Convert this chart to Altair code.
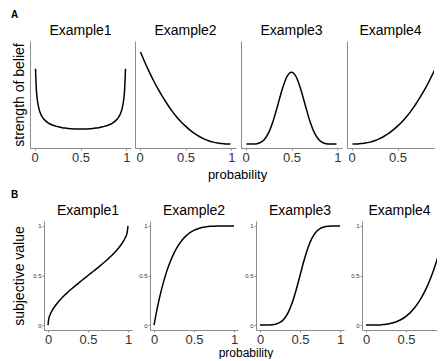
import altair as alt
import pandas as pd

FONT = "Liberation Sans"
names = ["Example1", "Example2", "Example3", "Example4"]

# ---- Panel A: strength of belief ----
xa1 = [0.01, 0.02, 0.03, 0.05, 0.075, 0.1, 0.15, 0.2, 0.25, 0.3, 0.35, 0.4, 0.45, 0.5,
       0.55, 0.6, 0.65, 0.7, 0.75, 0.8, 0.85, 0.9, 0.925, 0.95, 0.97, 0.98, 0.99]
belief1 = [3.20, 2.27, 1.87, 1.46, 1.21, 1.06, 0.89, 0.80, 0.74, 0.69, 0.67, 0.65, 0.64, 0.64,
           0.64, 0.65, 0.67, 0.69, 0.74, 0.80, 0.89, 1.06, 1.21, 1.46, 1.87, 2.27, 3.20]
xa = [0.01, 0.05, 0.1, 0.15, 0.2, 0.25, 0.3, 0.35, 0.4, 0.45, 0.5,
      0.55, 0.6, 0.65, 0.7, 0.75, 0.8, 0.85, 0.9, 0.95, 0.99]
belief2 = [3.91, 3.54, 3.11, 2.71, 2.34, 2.01, 1.70, 1.42, 1.17, 0.95, 0.76,
           0.59, 0.44, 0.32, 0.22, 0.14, 0.08, 0.04, 0.02, 0.00, 0.00]
belief3 = [0.00, 0.00, 0.00, 0.04, 0.17, 0.47, 0.98, 1.65, 2.34, 2.86, 3.05,
           2.86, 2.34, 1.65, 0.98, 0.47, 0.17, 0.04, 0.00, 0.00, 0.00]
belief4 = [0.00, 0.00, 0.02, 0.04, 0.08, 0.14, 0.22, 0.32, 0.44, 0.59, 0.76,
           0.95, 1.17, 1.42, 1.70, 2.01, 2.34, 2.71, 3.11, 3.54, 3.91]

# ---- Panel B: subjective value ----
xb1 = [0, 0.01, 0.03, 0.05, 0.1, 0.15, 0.2, 0.25, 0.3, 0.35, 0.4, 0.45, 0.5,
       0.55, 0.6, 0.65, 0.7, 0.75, 0.8, 0.85, 0.9, 0.95, 0.97, 0.99, 1]
value1 = [0, 0.064, 0.111, 0.144, 0.205, 0.253, 0.295, 0.333, 0.369, 0.403, 0.436, 0.468, 0.5,
          0.532, 0.564, 0.597, 0.631, 0.667, 0.705, 0.747, 0.795, 0.856, 0.889, 0.936, 1]
xb = [0, 0.05, 0.1, 0.15, 0.2, 0.25, 0.3, 0.35, 0.4, 0.45, 0.5,
      0.55, 0.6, 0.65, 0.7, 0.75, 0.8, 0.85, 0.9, 0.95, 1]
value2 = [0, 0.206, 0.378, 0.519, 0.634, 0.726, 0.799, 0.856, 0.900, 0.932, 0.956,
          0.972, 0.984, 0.991, 0.996, 0.998, 0.999, 1, 1, 1, 1]
value3 = [0, 0, 0.001, 0.003, 0.010, 0.026, 0.061, 0.123, 0.219, 0.349, 0.5,
          0.651, 0.781, 0.877, 0.939, 0.974, 0.990, 0.997, 0.999, 1, 1]
value4 = [0, 0, 0, 0.001, 0.004, 0.008, 0.015, 0.025, 0.041, 0.061, 0.088,
          0.123, 0.167, 0.221, 0.287, 0.365, 0.458, 0.566, 0.692, 0.836, 1]

tick_vals = [0, 0.5, 1]

row_a = [(xa1, belief1), (xa, belief2), (xa, belief3), (xa, belief4)]
row_b = [(xb1, value1), (xb, value2), (xb, value3), (xb, value4)]

AXIS_GREY = "#8c8c8c"
LABEL_GREY = "#333333"


def spacer(w):
    return alt.Chart(pd.DataFrame({"s": [0]})).mark_rule(strokeWidth=0, strokeOpacity=0).encode(
        x=alt.value(0), y=alt.value(0), y2=alt.value(1)
    ).properties(width=w, height=1)


def x_enc(last, dom_max):
    return alt.X(
        "p:Q",
        scale=alt.Scale(domain=[-0.05, dom_max], nice=False, zero=False),
        axis=alt.Axis(values=tick_vals[:2] if last else tick_vals, format="~g", title=None,
                      grid=False, labelFlush=False, labelOverlap=False, tickSize=2,
                      labelPadding=1, labelFontSize=13, labelColor=LABEL_GREY, labelFont=FONT,
                      domainColor=AXIS_GREY, tickColor=AXIS_GREY),
    )


def panel_title(i):
    return alt.TitleParams(names[i], font=FONT, fontSize=14, fontWeight="normal",
                           color="black", offset=3)


def panel_a(i):
    xs, ys = row_a[i]
    last = i == 3
    w = 87 if last else 101
    df = pd.DataFrame({"p": xs, "v": ys})
    yaxis = alt.Axis(title="strength of belief" if i == 0 else None, labels=False, ticks=False,
                     grid=False, domainColor=AXIS_GREY, titleFont=FONT, titleFontSize=14,
                     titleFontWeight="normal", titleColor="black", titlePadding=4)
    return alt.Chart(df).mark_line(color="black", strokeWidth=1.5, interpolate="monotone",
                                   clip=True).encode(
        x=x_enc(last, -0.05 + w / 91.82),
        y=alt.Y("v:Q", scale=alt.Scale(domain=[-0.17, 4.38], nice=False, zero=False), axis=yaxis),
    ).properties(width=w, height=107, title=panel_title(i))


def panel_b(i):
    xs, ys = row_b[i]
    last = i == 3
    w = 75 if last else 88
    df = pd.DataFrame({"p": xs, "v": ys})
    yaxis = alt.Axis(title="subjective value" if i == 0 else None, values=tick_vals, format="~g",
                     grid=False, domainColor=AXIS_GREY, tickColor=AXIS_GREY, tickSize=2,
                     labelPadding=1, labelFontSize=6, labelColor=LABEL_GREY, labelFont=FONT,
                     titleFont=FONT, titleFontSize=14, titleFontWeight="normal",
                     titleColor="black", titlePadding=6)
    return alt.Chart(df).mark_line(color="black", strokeWidth=1.5, interpolate="monotone",
                                   clip=True).encode(
        x=x_enc(last, -0.05 + w / 80.0),
        y=alt.Y("v:Q", scale=alt.Scale(domain=[-0.05, 1.05], nice=False, zero=False), axis=yaxis),
    ).properties(width=w, height=109, title=panel_title(i))


row_a_chart = alt.hconcat(
    spacer(1), panel_a(0), spacer(4), panel_a(1), spacer(5), panel_a(2), spacer(5), panel_a(3),
    spacing=0,
    title=alt.TitleParams("probability", orient="bottom", anchor="middle",
                          font=FONT, fontSize=13, fontWeight="normal",
                          color="black", offset=5, dx=15))
row_b_chart = alt.hconcat(
    spacer(1), panel_b(0), spacer(6), panel_b(1), spacer(6), panel_b(2), spacer(6), panel_b(3),
    spacing=0,
    title=alt.TitleParams("probability", orient="bottom", anchor="middle",
                          font=FONT, fontSize=12, fontWeight="normal",
                          color="black", offset=2, dx=22))

block_a = alt.vconcat(row_a_chart, title=alt.TitleParams("A", anchor="start", font=FONT, fontSize=10,
                                                          fontWeight="bold", color="black", offset=4))
block_b = alt.vconcat(row_b_chart, title=alt.TitleParams("B", anchor="start", font=FONT, fontSize=10,
                                                          fontWeight="bold", color="black", offset=4))

chart = alt.vconcat(block_a, block_b, spacing=8).properties(
    padding={"left": 3, "top": 2, "right": 0, "bottom": 0}
).configure_view(stroke=None)

chart.save("out.html", embed_options={"renderer": "svg", "actions": False})
